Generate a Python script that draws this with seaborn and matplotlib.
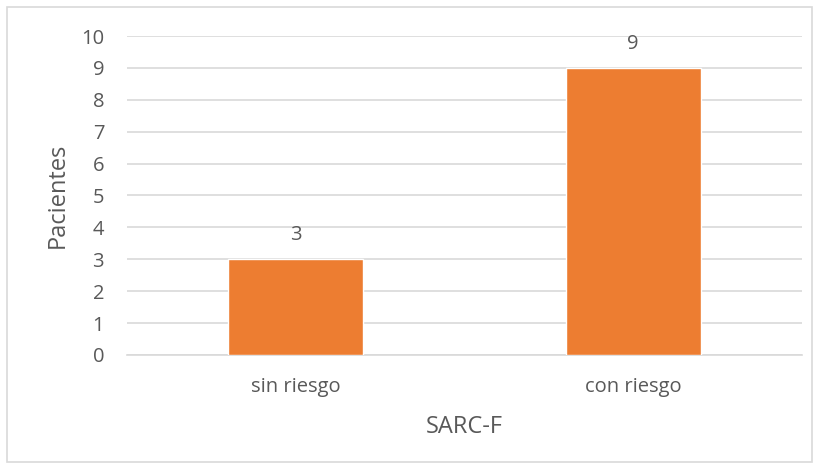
import pandas as pd
import matplotlib.pyplot as plt
import seaborn as sns
from matplotlib.patches import Rectangle

# Values
categories = ["sin riesgo", "con riesgo"]
pacientes = [3, 9]
y_ticks = list(range(0, 11))

df = pd.DataFrame({"SARC-F": categories, "Pacientes": pacientes})

sns.set_style("white")
plt.rcParams["font.family"] = ["Open Sans", "DejaVu Sans"]
text_color = "#595959"
grid_color = "#D9D9D9"
bar_color = "#ED7D31"

fig = plt.figure(figsize=(8.2, 4.7), dpi=100)
ax = fig.add_axes([0.155, 0.2447, 0.823, 0.6787])

sns.barplot(data=df, x="SARC-F", y="Pacientes", color=bar_color,
            width=0.4, saturation=1, ax=ax, zorder=3)

ax.set_ylim(0, 10)
ax.set_xlim(-0.5, 1.5)
ax.set_yticks(y_ticks)
ax.yaxis.grid(True, color=grid_color, linewidth=1.2, zorder=0)
ax.set_axisbelow(True)
for side in ["top", "right", "left"]:
    ax.spines[side].set_visible(False)
ax.spines["bottom"].set_color(grid_color)
ax.spines["bottom"].set_linewidth(1.2)
ax.tick_params(axis="both", length=0, labelsize=14.5, labelcolor=text_color)
ax.tick_params(axis="y", pad=16.5)
ax.tick_params(axis="x", pad=16)

ax.bar_label(ax.containers[0], labels=[str(v) for v in pacientes],
             padding=10, fontsize=14.5, color=text_color)

ax.set_xlabel("SARC-F", fontsize=17, color=text_color, labelpad=13)
ax.set_ylabel("Pacientes", fontsize=17, color=text_color, labelpad=8.5)

# Light chart border like the spreadsheet chart area
fig.patches.append(Rectangle((7 / 820, 8 / 470), 805 / 820, 455 / 470,
                             transform=fig.transFigure, fill=False,
                             edgecolor=grid_color, linewidth=1.2))

fig.savefig("out.png", dpi=100)
